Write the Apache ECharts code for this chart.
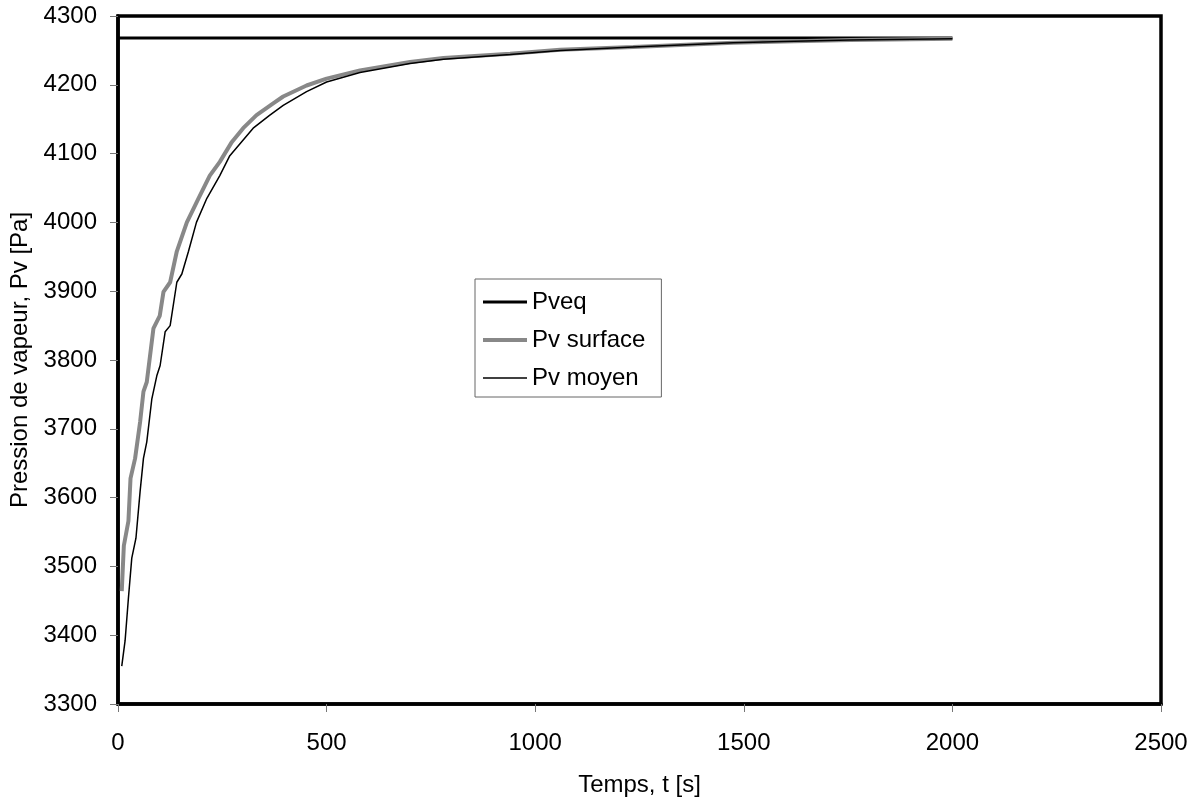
<!DOCTYPE html>
<html>
<head>
<meta charset="utf-8">
<script src="https://cdn.jsdelivr.net/npm/echarts@6/dist/echarts.min.js"></script>
<style>html,body{margin:0;padding:0;background:#fff;}#c{width:1200px;height:805px;}</style>
</head>
<body>
<div id="c"></div>
<script>
// Pveq (equilibrium)
const tEq = [0, 2000];
const pEq = [4268, 4268];
// Pv surface
const tSurf = [9,14,25,30,41,53,61,69,85,100,109,125,141,165,193,220,244,273,300,332,372,396,452,500,580,700,780,940,1060,1235,1475,1595,1755,2000];
const pSurf = [3464,3530,3566,3628,3657,3710,3754,3768,3846,3864,3899,3913,3958,4000,4035,4068,4088,4117,4137,4156,4173,4183,4199,4209,4221,4233,4239,4245,4251,4255,4261,4263,4265,4267];
// Pv moyen
const tMoy = [9,17,25,33,43,53,61,69,81,93,101,113,125,141,153,169,188,213,244,268,296,324,364,396,452,500,580,700,780,940,1060,1235,1475,1595,1755,2000];
const pMoy = [3355,3392,3454,3512,3541,3609,3657,3681,3743,3777,3792,3841,3850,3913,3925,3958,4000,4035,4068,4097,4117,4137,4156,4170,4190,4204,4218,4231,4237,4244,4250,4255,4261,4263,4265,4267];
const xTicks = [0, 2500, 500];
const yTicks = [3300, 4300, 100];
const legendNames = ['Pveq', 'Pv surface', 'Pv moyen'];

const zip = (a, b) => a.map((v, i) => [v, b[i]]);
const font = 'Liberation Sans, Arial, sans-serif';
// horizontal bar legend icon of a given thickness, inside a 44x24 box
const barIcon = (h) => 'path://M0,0 M44,24 M0,' + (12 - h / 2) + ' L44,' + (12 - h / 2) + ' L44,' + (12 + h / 2) + ' L0,' + (12 + h / 2) + ' Z';
const chart = echarts.init(document.getElementById('c'), null, {renderer: 'canvas'});
chart.setOption({
  animation: false,
  backgroundColor: '#fff',
  grid: {left: 118, right: 39, top: 16, bottom: 101, outerBoundsMode: 'none', containLabel: false,
         show: true, borderColor: '#000', borderWidth: 3.5, backgroundColor: 'transparent'},
  legend: {
    orient: 'vertical', left: 475, top: 279,
    padding: [11, 16, 7, 8], itemGap: 14, itemWidth: 44, itemHeight: 24,
    borderColor: '#666', borderWidth: 1, backgroundColor: '#fff',
    itemStyle: {borderWidth: 0},
    textStyle: {fontFamily: font, fontSize: 24, color: '#000'},
    data: [
      {name: legendNames[0], icon: barIcon(3)},
      {name: legendNames[1], icon: barIcon(4)},
      {name: legendNames[2], icon: barIcon(1.5)}
    ]
  },
  xAxis: {
    type: 'value', min: xTicks[0], max: xTicks[1], interval: xTicks[2],
    name: 'Temps, t [s]', nameLocation: 'middle', nameGap: 69,
    nameTextStyle: {fontFamily: font, fontSize: 24, color: '#000'},
    axisLine: {show: true, lineStyle: {color: '#000', width: 3.5}},
    axisTick: {show: true, length: 8, lineStyle: {color: '#777', width: 1}},
    axisLabel: {fontFamily: font, fontSize: 24, color: '#000', margin: 27, formatter: v => String(v)},
    splitLine: {show: false}
  },
  yAxis: {
    type: 'value', min: yTicks[0], max: yTicks[1], interval: yTicks[2],
    name: 'Pression de vapeur, Pv [Pa]', nameLocation: 'middle', nameGap: 84,
    nameTextStyle: {fontFamily: font, fontSize: 24, color: '#000'},
    axisLine: {show: true, lineStyle: {color: '#000', width: 3.5}},
    axisTick: {show: true, length: 8, lineStyle: {color: '#777', width: 1}},
    axisLabel: {fontFamily: font, fontSize: 24, color: '#000', margin: 21, formatter: v => String(v)},
    splitLine: {show: false}
  },
  series: [
    {name: legendNames[0], type: 'line', data: zip(tEq, pEq), showSymbol: false, symbol: 'none',
     lineStyle: {color: '#000', width: 3}, itemStyle: {color: '#000'}},
    {name: legendNames[1], type: 'line', data: zip(tSurf, pSurf), showSymbol: false, symbol: 'none',
     lineStyle: {color: '#888', width: 4}, itemStyle: {color: '#888'}},
    {name: legendNames[2], type: 'line', data: zip(tMoy, pMoy), showSymbol: false, symbol: 'none',
     lineStyle: {color: '#000', width: 1.5}, itemStyle: {color: '#000'}}
  ]
});
</script>
</body>
</html>
